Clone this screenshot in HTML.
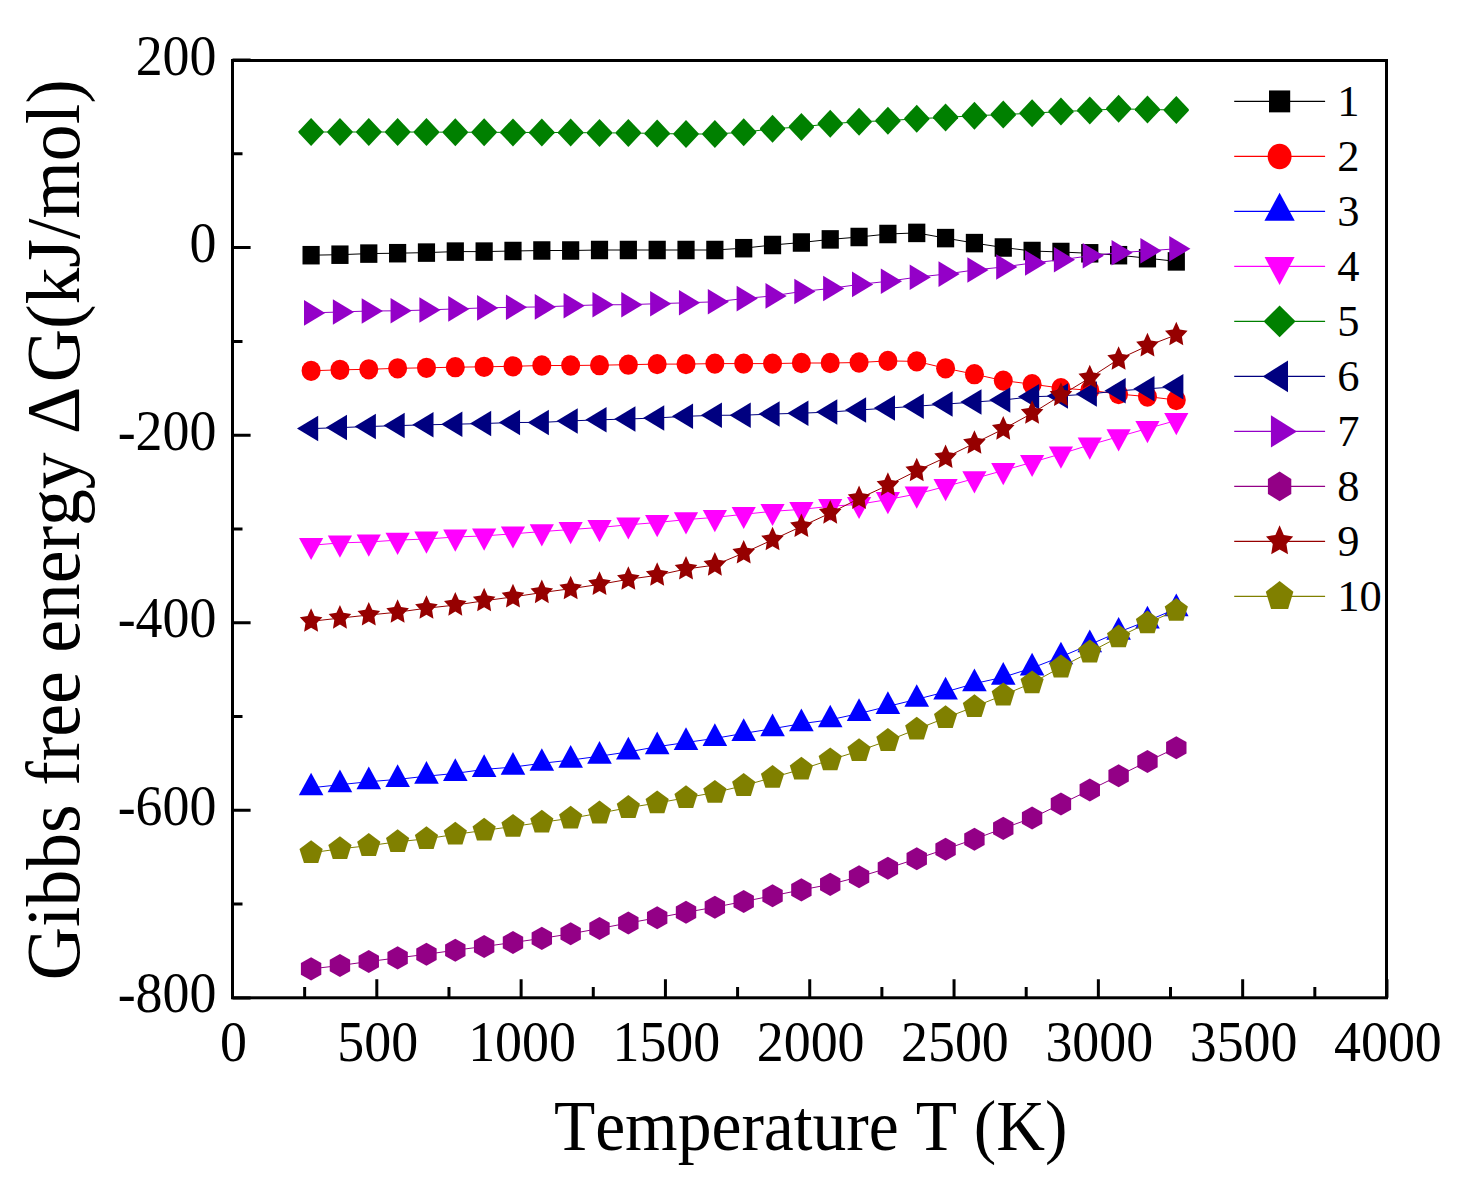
<!DOCTYPE html><html><head><meta charset="utf-8"><style>html,body{margin:0;padding:0;background:#fff;}svg{display:block;}text{font-family:"Liberation Serif",serif;fill:#000;font-kerning:none;}</style></head><body>
<svg width="1463" height="1186" viewBox="0 0 1463 1186">
<rect width="1463" height="1186" fill="#fff"/>
<g fill="#000000">
<polyline fill="none" stroke="#000000" stroke-width="1.0" points="311.1,255.2 339.94,254.7 368.78,253.6 397.62,253.2 426.46,252.6 455.3,251.6 484.14,251.6 512.98,251 541.82,250.5 570.66,250.5 599.5,250 628.34,250 657.18,250 686.02,250 714.86,250 743.7,248.2 772.54,245 801.38,242.5 830.22,239.4 859.06,237 887.9,234 916.74,232.9 945.58,238.1 974.42,243.1 1003.26,247.5 1032.1,251 1060.94,252 1089.78,253.3 1118.62,255.2 1147.46,258.2 1176.3,261.4"/>
<rect x="302.5" y="245.95" width="17.2" height="18.5"/>
<rect x="331.34" y="245.45" width="17.2" height="18.5"/>
<rect x="360.18" y="244.35" width="17.2" height="18.5"/>
<rect x="389.02" y="243.95" width="17.2" height="18.5"/>
<rect x="417.86" y="243.35" width="17.2" height="18.5"/>
<rect x="446.7" y="242.35" width="17.2" height="18.5"/>
<rect x="475.54" y="242.35" width="17.2" height="18.5"/>
<rect x="504.38" y="241.75" width="17.2" height="18.5"/>
<rect x="533.22" y="241.25" width="17.2" height="18.5"/>
<rect x="562.06" y="241.25" width="17.2" height="18.5"/>
<rect x="590.9" y="240.75" width="17.2" height="18.5"/>
<rect x="619.74" y="240.75" width="17.2" height="18.5"/>
<rect x="648.58" y="240.75" width="17.2" height="18.5"/>
<rect x="677.42" y="240.75" width="17.2" height="18.5"/>
<rect x="706.26" y="240.75" width="17.2" height="18.5"/>
<rect x="735.1" y="238.95" width="17.2" height="18.5"/>
<rect x="763.94" y="235.75" width="17.2" height="18.5"/>
<rect x="792.78" y="233.25" width="17.2" height="18.5"/>
<rect x="821.62" y="230.15" width="17.2" height="18.5"/>
<rect x="850.46" y="227.75" width="17.2" height="18.5"/>
<rect x="879.3" y="224.75" width="17.2" height="18.5"/>
<rect x="908.14" y="223.65" width="17.2" height="18.5"/>
<rect x="936.98" y="228.85" width="17.2" height="18.5"/>
<rect x="965.82" y="233.85" width="17.2" height="18.5"/>
<rect x="994.66" y="238.25" width="17.2" height="18.5"/>
<rect x="1023.5" y="241.75" width="17.2" height="18.5"/>
<rect x="1052.34" y="242.75" width="17.2" height="18.5"/>
<rect x="1081.18" y="244.05" width="17.2" height="18.5"/>
<rect x="1110.02" y="245.95" width="17.2" height="18.5"/>
<rect x="1138.86" y="248.95" width="17.2" height="18.5"/>
<rect x="1167.7" y="252.15" width="17.2" height="18.5"/>
</g>
<g fill="#FF0000">
<polyline fill="none" stroke="#FF0000" stroke-width="1.0" points="311.1,370.8 339.94,369.8 368.78,369.3 397.62,368.3 426.46,367.8 455.3,367.2 484.14,366.8 512.98,366.3 541.82,365.5 570.66,365.5 599.5,365.2 628.34,364.7 657.18,364.1 686.02,364.1 714.86,363.6 743.7,363.6 772.54,363.6 801.38,363 830.22,363 859.06,362.5 887.9,360.9 916.74,361.4 945.58,368.3 974.42,374.2 1003.26,380.6 1032.1,384.2 1060.94,388.1 1089.78,390.3 1118.62,394.1 1147.46,396.6 1176.3,400"/>
<ellipse cx="311.1" cy="370.8" rx="9.5" ry="10.15"/>
<ellipse cx="339.94" cy="369.8" rx="9.5" ry="10.15"/>
<ellipse cx="368.78" cy="369.3" rx="9.5" ry="10.15"/>
<ellipse cx="397.62" cy="368.3" rx="9.5" ry="10.15"/>
<ellipse cx="426.46" cy="367.8" rx="9.5" ry="10.15"/>
<ellipse cx="455.3" cy="367.2" rx="9.5" ry="10.15"/>
<ellipse cx="484.14" cy="366.8" rx="9.5" ry="10.15"/>
<ellipse cx="512.98" cy="366.3" rx="9.5" ry="10.15"/>
<ellipse cx="541.82" cy="365.5" rx="9.5" ry="10.15"/>
<ellipse cx="570.66" cy="365.5" rx="9.5" ry="10.15"/>
<ellipse cx="599.5" cy="365.2" rx="9.5" ry="10.15"/>
<ellipse cx="628.34" cy="364.7" rx="9.5" ry="10.15"/>
<ellipse cx="657.18" cy="364.1" rx="9.5" ry="10.15"/>
<ellipse cx="686.02" cy="364.1" rx="9.5" ry="10.15"/>
<ellipse cx="714.86" cy="363.6" rx="9.5" ry="10.15"/>
<ellipse cx="743.7" cy="363.6" rx="9.5" ry="10.15"/>
<ellipse cx="772.54" cy="363.6" rx="9.5" ry="10.15"/>
<ellipse cx="801.38" cy="363" rx="9.5" ry="10.15"/>
<ellipse cx="830.22" cy="363" rx="9.5" ry="10.15"/>
<ellipse cx="859.06" cy="362.5" rx="9.5" ry="10.15"/>
<ellipse cx="887.9" cy="360.9" rx="9.5" ry="10.15"/>
<ellipse cx="916.74" cy="361.4" rx="9.5" ry="10.15"/>
<ellipse cx="945.58" cy="368.3" rx="9.5" ry="10.15"/>
<ellipse cx="974.42" cy="374.2" rx="9.5" ry="10.15"/>
<ellipse cx="1003.26" cy="380.6" rx="9.5" ry="10.15"/>
<ellipse cx="1032.1" cy="384.2" rx="9.5" ry="10.15"/>
<ellipse cx="1060.94" cy="388.1" rx="9.5" ry="10.15"/>
<ellipse cx="1089.78" cy="390.3" rx="9.5" ry="10.15"/>
<ellipse cx="1118.62" cy="394.1" rx="9.5" ry="10.15"/>
<ellipse cx="1147.46" cy="396.6" rx="9.5" ry="10.15"/>
<ellipse cx="1176.3" cy="400" rx="9.5" ry="10.15"/>
</g>
<g fill="#0000FF">
<polyline fill="none" stroke="#0000FF" stroke-width="1.0" points="311.1,787.8 339.94,784.7 368.78,781.7 397.62,779.4 426.46,776.2 455.3,773.4 484.14,769.4 512.98,767.1 541.82,763.3 570.66,760.1 599.5,756.2 628.34,751.9 657.18,746.7 686.02,742.5 714.86,738.4 743.7,733.4 772.54,728.7 801.38,723.7 830.22,719.8 859.06,713.5 887.9,706.4 916.74,699.3 945.58,691.9 974.42,683.6 1003.26,677.2 1032.1,668 1060.94,656.8 1089.78,644.6 1118.62,632.1 1147.46,620.9 1176.3,608.7"/>
<polygon points="311.1,772.67 323.4,795.37 298.8,795.37"/>
<polygon points="339.94,769.57 352.24,792.27 327.64,792.27"/>
<polygon points="368.78,766.57 381.08,789.27 356.48,789.27"/>
<polygon points="397.62,764.27 409.92,786.97 385.32,786.97"/>
<polygon points="426.46,761.07 438.76,783.77 414.16,783.77"/>
<polygon points="455.3,758.27 467.6,780.97 443,780.97"/>
<polygon points="484.14,754.27 496.44,776.97 471.84,776.97"/>
<polygon points="512.98,751.97 525.28,774.67 500.68,774.67"/>
<polygon points="541.82,748.17 554.12,770.87 529.52,770.87"/>
<polygon points="570.66,744.97 582.96,767.67 558.36,767.67"/>
<polygon points="599.5,741.07 611.8,763.77 587.2,763.77"/>
<polygon points="628.34,736.77 640.64,759.47 616.04,759.47"/>
<polygon points="657.18,731.57 669.48,754.27 644.88,754.27"/>
<polygon points="686.02,727.37 698.32,750.07 673.72,750.07"/>
<polygon points="714.86,723.27 727.16,745.97 702.56,745.97"/>
<polygon points="743.7,718.27 756,740.97 731.4,740.97"/>
<polygon points="772.54,713.57 784.84,736.27 760.24,736.27"/>
<polygon points="801.38,708.57 813.68,731.27 789.08,731.27"/>
<polygon points="830.22,704.67 842.52,727.37 817.92,727.37"/>
<polygon points="859.06,698.37 871.36,721.07 846.76,721.07"/>
<polygon points="887.9,691.27 900.2,713.97 875.6,713.97"/>
<polygon points="916.74,684.17 929.04,706.87 904.44,706.87"/>
<polygon points="945.58,676.77 957.88,699.47 933.28,699.47"/>
<polygon points="974.42,668.47 986.72,691.17 962.12,691.17"/>
<polygon points="1003.26,662.07 1015.56,684.77 990.96,684.77"/>
<polygon points="1032.1,652.87 1044.4,675.57 1019.8,675.57"/>
<polygon points="1060.94,641.67 1073.24,664.37 1048.64,664.37"/>
<polygon points="1089.78,629.47 1102.08,652.17 1077.48,652.17"/>
<polygon points="1118.62,616.97 1130.92,639.67 1106.32,639.67"/>
<polygon points="1147.46,605.77 1159.76,628.47 1135.16,628.47"/>
<polygon points="1176.3,593.57 1188.6,616.27 1164,616.27"/>
</g>
<g fill="#FF00FF">
<polyline fill="none" stroke="#FF00FF" stroke-width="1.0" points="311.1,545.3 339.94,542.9 368.78,542 397.62,540.1 426.46,539 455.3,537 484.14,535.9 512.98,533.8 541.82,531.6 570.66,529.5 599.5,527.5 628.34,524.8 657.18,522.5 686.02,519.6 714.86,517.4 743.7,514.3 772.54,511.3 801.38,509.4 830.22,506.3 859.06,504.3 887.9,499.5 916.74,494 945.58,486.5 974.42,478.6 1003.26,470.5 1032.1,462.3 1060.94,453.9 1089.78,444.9 1118.62,436.7 1147.46,428.5 1176.3,420.5"/>
<polygon points="311.1,560.1 323.2,537.9 299,537.9"/>
<polygon points="339.94,557.7 352.04,535.5 327.84,535.5"/>
<polygon points="368.78,556.8 380.88,534.6 356.68,534.6"/>
<polygon points="397.62,554.9 409.72,532.7 385.52,532.7"/>
<polygon points="426.46,553.8 438.56,531.6 414.36,531.6"/>
<polygon points="455.3,551.8 467.4,529.6 443.2,529.6"/>
<polygon points="484.14,550.7 496.24,528.5 472.04,528.5"/>
<polygon points="512.98,548.6 525.08,526.4 500.88,526.4"/>
<polygon points="541.82,546.4 553.92,524.2 529.72,524.2"/>
<polygon points="570.66,544.3 582.76,522.1 558.56,522.1"/>
<polygon points="599.5,542.3 611.6,520.1 587.4,520.1"/>
<polygon points="628.34,539.6 640.44,517.4 616.24,517.4"/>
<polygon points="657.18,537.3 669.28,515.1 645.08,515.1"/>
<polygon points="686.02,534.4 698.12,512.2 673.92,512.2"/>
<polygon points="714.86,532.2 726.96,510 702.76,510"/>
<polygon points="743.7,529.1 755.8,506.9 731.6,506.9"/>
<polygon points="772.54,526.1 784.64,503.9 760.44,503.9"/>
<polygon points="801.38,524.2 813.48,502 789.28,502"/>
<polygon points="830.22,521.1 842.32,498.9 818.12,498.9"/>
<polygon points="859.06,519.1 871.16,496.9 846.96,496.9"/>
<polygon points="887.9,514.3 900,492.1 875.8,492.1"/>
<polygon points="916.74,508.8 928.84,486.6 904.64,486.6"/>
<polygon points="945.58,501.3 957.68,479.1 933.48,479.1"/>
<polygon points="974.42,493.4 986.52,471.2 962.32,471.2"/>
<polygon points="1003.26,485.3 1015.36,463.1 991.16,463.1"/>
<polygon points="1032.1,477.1 1044.2,454.9 1020,454.9"/>
<polygon points="1060.94,468.7 1073.04,446.5 1048.84,446.5"/>
<polygon points="1089.78,459.7 1101.88,437.5 1077.68,437.5"/>
<polygon points="1118.62,451.5 1130.72,429.3 1106.52,429.3"/>
<polygon points="1147.46,443.3 1159.56,421.1 1135.36,421.1"/>
<polygon points="1176.3,435.3 1188.4,413.1 1164.2,413.1"/>
</g>
<g fill="#008000">
<polyline fill="none" stroke="#008000" stroke-width="1.0" points="311.1,132 339.94,132 368.78,132 397.62,132 426.46,132.1 455.3,132.2 484.14,132.3 512.98,132.4 541.82,132.5 570.66,132.5 599.5,132.9 628.34,132.9 657.18,133.5 686.02,134 714.86,134 743.7,132.2 772.54,128.8 801.38,126.9 830.22,123.8 859.06,121.7 887.9,120.7 916.74,118.7 945.58,117.4 974.42,115.7 1003.26,114.6 1032.1,113.2 1060.94,111.5 1089.78,110.4 1118.62,108.8 1147.46,109.5 1176.3,110"/>
<polygon points="311.1,118 323.6,131.2 323.6,132.8 311.1,146 298.6,132.8 298.6,131.2"/>
<polygon points="339.94,118 352.44,131.2 352.44,132.8 339.94,146 327.44,132.8 327.44,131.2"/>
<polygon points="368.78,118 381.28,131.2 381.28,132.8 368.78,146 356.28,132.8 356.28,131.2"/>
<polygon points="397.62,118 410.12,131.2 410.12,132.8 397.62,146 385.12,132.8 385.12,131.2"/>
<polygon points="426.46,118.1 438.96,131.3 438.96,132.9 426.46,146.1 413.96,132.9 413.96,131.3"/>
<polygon points="455.3,118.2 467.8,131.4 467.8,133 455.3,146.2 442.8,133 442.8,131.4"/>
<polygon points="484.14,118.3 496.64,131.5 496.64,133.1 484.14,146.3 471.64,133.1 471.64,131.5"/>
<polygon points="512.98,118.4 525.48,131.6 525.48,133.2 512.98,146.4 500.48,133.2 500.48,131.6"/>
<polygon points="541.82,118.5 554.32,131.7 554.32,133.3 541.82,146.5 529.32,133.3 529.32,131.7"/>
<polygon points="570.66,118.5 583.16,131.7 583.16,133.3 570.66,146.5 558.16,133.3 558.16,131.7"/>
<polygon points="599.5,118.9 612,132.1 612,133.7 599.5,146.9 587,133.7 587,132.1"/>
<polygon points="628.34,118.9 640.84,132.1 640.84,133.7 628.34,146.9 615.84,133.7 615.84,132.1"/>
<polygon points="657.18,119.5 669.68,132.7 669.68,134.3 657.18,147.5 644.68,134.3 644.68,132.7"/>
<polygon points="686.02,120 698.52,133.2 698.52,134.8 686.02,148 673.52,134.8 673.52,133.2"/>
<polygon points="714.86,120 727.36,133.2 727.36,134.8 714.86,148 702.36,134.8 702.36,133.2"/>
<polygon points="743.7,118.2 756.2,131.4 756.2,133 743.7,146.2 731.2,133 731.2,131.4"/>
<polygon points="772.54,114.8 785.04,128 785.04,129.6 772.54,142.8 760.04,129.6 760.04,128"/>
<polygon points="801.38,112.9 813.88,126.1 813.88,127.7 801.38,140.9 788.88,127.7 788.88,126.1"/>
<polygon points="830.22,109.8 842.72,123 842.72,124.6 830.22,137.8 817.72,124.6 817.72,123"/>
<polygon points="859.06,107.7 871.56,120.9 871.56,122.5 859.06,135.7 846.56,122.5 846.56,120.9"/>
<polygon points="887.9,106.7 900.4,119.9 900.4,121.5 887.9,134.7 875.4,121.5 875.4,119.9"/>
<polygon points="916.74,104.7 929.24,117.9 929.24,119.5 916.74,132.7 904.24,119.5 904.24,117.9"/>
<polygon points="945.58,103.4 958.08,116.6 958.08,118.2 945.58,131.4 933.08,118.2 933.08,116.6"/>
<polygon points="974.42,101.7 986.92,114.9 986.92,116.5 974.42,129.7 961.92,116.5 961.92,114.9"/>
<polygon points="1003.26,100.6 1015.76,113.8 1015.76,115.4 1003.26,128.6 990.76,115.4 990.76,113.8"/>
<polygon points="1032.1,99.2 1044.6,112.4 1044.6,114 1032.1,127.2 1019.6,114 1019.6,112.4"/>
<polygon points="1060.94,97.5 1073.44,110.7 1073.44,112.3 1060.94,125.5 1048.44,112.3 1048.44,110.7"/>
<polygon points="1089.78,96.4 1102.28,109.6 1102.28,111.2 1089.78,124.4 1077.28,111.2 1077.28,109.6"/>
<polygon points="1118.62,94.8 1131.12,108 1131.12,109.6 1118.62,122.8 1106.12,109.6 1106.12,108"/>
<polygon points="1147.46,95.5 1159.96,108.7 1159.96,110.3 1147.46,123.5 1134.96,110.3 1134.96,108.7"/>
<polygon points="1176.3,96 1188.8,109.2 1188.8,110.8 1176.3,124 1163.8,110.8 1163.8,109.2"/>
</g>
<g fill="#000080">
<polyline fill="none" stroke="#000080" stroke-width="1.0" points="311.1,428.6 339.94,427.6 368.78,426.5 397.62,425.6 426.46,424.8 455.3,424.2 484.14,423.5 512.98,422.5 541.82,422.4 570.66,420.9 599.5,419.8 628.34,419 657.18,417.9 686.02,416.3 714.86,415.3 743.7,415.2 772.54,414 801.38,413.2 830.22,412 859.06,410 887.9,408.1 916.74,406.2 945.58,404.1 974.42,402 1003.26,400 1032.1,396.7 1060.94,395.9 1089.78,394 1118.62,390.8 1147.46,388.8 1176.3,386.8"/>
<polygon points="296.97,428.6 318.17,415.85 318.17,441.35"/>
<polygon points="325.81,427.6 347.01,414.85 347.01,440.35"/>
<polygon points="354.65,426.5 375.85,413.75 375.85,439.25"/>
<polygon points="383.49,425.6 404.69,412.85 404.69,438.35"/>
<polygon points="412.33,424.8 433.53,412.05 433.53,437.55"/>
<polygon points="441.17,424.2 462.37,411.45 462.37,436.95"/>
<polygon points="470.01,423.5 491.21,410.75 491.21,436.25"/>
<polygon points="498.85,422.5 520.05,409.75 520.05,435.25"/>
<polygon points="527.69,422.4 548.89,409.65 548.89,435.15"/>
<polygon points="556.53,420.9 577.73,408.15 577.73,433.65"/>
<polygon points="585.37,419.8 606.57,407.05 606.57,432.55"/>
<polygon points="614.21,419 635.41,406.25 635.41,431.75"/>
<polygon points="643.05,417.9 664.25,405.15 664.25,430.65"/>
<polygon points="671.89,416.3 693.09,403.55 693.09,429.05"/>
<polygon points="700.73,415.3 721.93,402.55 721.93,428.05"/>
<polygon points="729.57,415.2 750.77,402.45 750.77,427.95"/>
<polygon points="758.41,414 779.61,401.25 779.61,426.75"/>
<polygon points="787.25,413.2 808.45,400.45 808.45,425.95"/>
<polygon points="816.09,412 837.29,399.25 837.29,424.75"/>
<polygon points="844.93,410 866.13,397.25 866.13,422.75"/>
<polygon points="873.77,408.1 894.97,395.35 894.97,420.85"/>
<polygon points="902.61,406.2 923.81,393.45 923.81,418.95"/>
<polygon points="931.45,404.1 952.65,391.35 952.65,416.85"/>
<polygon points="960.29,402 981.49,389.25 981.49,414.75"/>
<polygon points="989.13,400 1010.33,387.25 1010.33,412.75"/>
<polygon points="1017.97,396.7 1039.17,383.95 1039.17,409.45"/>
<polygon points="1046.81,395.9 1068.01,383.15 1068.01,408.65"/>
<polygon points="1075.65,394 1096.85,381.25 1096.85,406.75"/>
<polygon points="1104.49,390.8 1125.69,378.05 1125.69,403.55"/>
<polygon points="1133.33,388.8 1154.53,376.05 1154.53,401.55"/>
<polygon points="1162.17,386.8 1183.37,374.05 1183.37,399.55"/>
</g>
<g fill="#9400C8">
<polyline fill="none" stroke="#9400C8" stroke-width="1.0" points="311.1,312.9 339.94,312 368.78,311 397.62,310.8 426.46,310 455.3,308.9 484.14,307.9 512.98,307.3 541.82,306.9 570.66,305.8 599.5,304.8 628.34,304.7 657.18,303.7 686.02,302.8 714.86,301.8 743.7,298.6 772.54,295.9 801.38,291.5 830.22,288.5 859.06,284.4 887.9,281.3 916.74,277.2 945.58,274.1 974.42,270 1003.26,267 1032.1,263 1060.94,259.8 1089.78,255.8 1118.62,252.7 1147.46,250.8 1176.3,248.8"/>
<polygon points="325.23,312.9 304.03,300.1 304.03,325.7"/>
<polygon points="354.07,312 332.87,299.2 332.87,324.8"/>
<polygon points="382.91,311 361.71,298.2 361.71,323.8"/>
<polygon points="411.75,310.8 390.55,298 390.55,323.6"/>
<polygon points="440.59,310 419.39,297.2 419.39,322.8"/>
<polygon points="469.43,308.9 448.23,296.1 448.23,321.7"/>
<polygon points="498.27,307.9 477.07,295.1 477.07,320.7"/>
<polygon points="527.11,307.3 505.91,294.5 505.91,320.1"/>
<polygon points="555.95,306.9 534.75,294.1 534.75,319.7"/>
<polygon points="584.79,305.8 563.59,293 563.59,318.6"/>
<polygon points="613.63,304.8 592.43,292 592.43,317.6"/>
<polygon points="642.47,304.7 621.27,291.9 621.27,317.5"/>
<polygon points="671.31,303.7 650.11,290.9 650.11,316.5"/>
<polygon points="700.15,302.8 678.95,290 678.95,315.6"/>
<polygon points="728.99,301.8 707.79,289 707.79,314.6"/>
<polygon points="757.83,298.6 736.63,285.8 736.63,311.4"/>
<polygon points="786.67,295.9 765.47,283.1 765.47,308.7"/>
<polygon points="815.51,291.5 794.31,278.7 794.31,304.3"/>
<polygon points="844.35,288.5 823.15,275.7 823.15,301.3"/>
<polygon points="873.19,284.4 851.99,271.6 851.99,297.2"/>
<polygon points="902.03,281.3 880.83,268.5 880.83,294.1"/>
<polygon points="930.87,277.2 909.67,264.4 909.67,290"/>
<polygon points="959.71,274.1 938.51,261.3 938.51,286.9"/>
<polygon points="988.55,270 967.35,257.2 967.35,282.8"/>
<polygon points="1017.39,267 996.19,254.2 996.19,279.8"/>
<polygon points="1046.23,263 1025.03,250.2 1025.03,275.8"/>
<polygon points="1075.07,259.8 1053.87,247 1053.87,272.6"/>
<polygon points="1103.91,255.8 1082.71,243 1082.71,268.6"/>
<polygon points="1132.75,252.7 1111.55,239.9 1111.55,265.5"/>
<polygon points="1161.59,250.8 1140.39,238 1140.39,263.6"/>
<polygon points="1190.43,248.8 1169.23,236 1169.23,261.6"/>
</g>
<g fill="#930086">
<polyline fill="none" stroke="#930086" stroke-width="1.0" points="311.1,968.9 339.94,965.5 368.78,961.5 397.62,957.9 426.46,954.3 455.3,950.2 484.14,946.5 512.98,942.5 541.82,938.4 570.66,933.8 599.5,928.5 628.34,923 657.18,917.8 686.02,912.3 714.86,907.2 743.7,901.5 772.54,895.8 801.38,889.9 830.22,884.4 859.06,876.8 887.9,868.2 916.74,858.8 945.58,849.2 974.42,839.2 1003.26,828.4 1032.1,818 1060.94,804 1089.78,790 1118.62,775.8 1147.46,761.5 1176.3,747.8"/>
<polygon points="311.1,957.35 321.3,963.12 321.3,974.67 311.1,980.45 300.9,974.67 300.9,963.12"/>
<polygon points="339.94,953.95 350.14,959.73 350.14,971.27 339.94,977.05 329.74,971.27 329.74,959.73"/>
<polygon points="368.78,949.95 378.98,955.73 378.98,967.27 368.78,973.05 358.58,967.27 358.58,955.73"/>
<polygon points="397.62,946.35 407.82,952.12 407.82,963.67 397.62,969.45 387.42,963.67 387.42,952.12"/>
<polygon points="426.46,942.75 436.66,948.52 436.66,960.07 426.46,965.85 416.26,960.07 416.26,948.52"/>
<polygon points="455.3,938.65 465.5,944.43 465.5,955.98 455.3,961.75 445.1,955.98 445.1,944.43"/>
<polygon points="484.14,934.95 494.34,940.73 494.34,952.27 484.14,958.05 473.94,952.27 473.94,940.73"/>
<polygon points="512.98,930.95 523.18,936.73 523.18,948.27 512.98,954.05 502.78,948.27 502.78,936.73"/>
<polygon points="541.82,926.85 552.02,932.62 552.02,944.17 541.82,949.95 531.62,944.17 531.62,932.62"/>
<polygon points="570.66,922.25 580.86,928.02 580.86,939.57 570.66,945.35 560.46,939.57 560.46,928.02"/>
<polygon points="599.5,916.95 609.7,922.73 609.7,934.27 599.5,940.05 589.3,934.27 589.3,922.73"/>
<polygon points="628.34,911.45 638.54,917.23 638.54,928.77 628.34,934.55 618.14,928.77 618.14,917.23"/>
<polygon points="657.18,906.25 667.38,912.02 667.38,923.57 657.18,929.35 646.98,923.57 646.98,912.02"/>
<polygon points="686.02,900.75 696.22,906.52 696.22,918.07 686.02,923.85 675.82,918.07 675.82,906.52"/>
<polygon points="714.86,895.65 725.06,901.43 725.06,912.98 714.86,918.75 704.66,912.98 704.66,901.43"/>
<polygon points="743.7,889.95 753.9,895.73 753.9,907.27 743.7,913.05 733.5,907.27 733.5,895.73"/>
<polygon points="772.54,884.25 782.74,890.02 782.74,901.57 772.54,907.35 762.34,901.57 762.34,890.02"/>
<polygon points="801.38,878.35 811.58,884.12 811.58,895.67 801.38,901.45 791.18,895.67 791.18,884.12"/>
<polygon points="830.22,872.85 840.42,878.62 840.42,890.17 830.22,895.95 820.02,890.17 820.02,878.62"/>
<polygon points="859.06,865.25 869.26,871.02 869.26,882.57 859.06,888.35 848.86,882.57 848.86,871.02"/>
<polygon points="887.9,856.65 898.1,862.43 898.1,873.98 887.9,879.75 877.7,873.98 877.7,862.43"/>
<polygon points="916.74,847.25 926.94,853.02 926.94,864.57 916.74,870.35 906.54,864.57 906.54,853.02"/>
<polygon points="945.58,837.65 955.78,843.43 955.78,854.98 945.58,860.75 935.38,854.98 935.38,843.43"/>
<polygon points="974.42,827.65 984.62,833.43 984.62,844.98 974.42,850.75 964.22,844.98 964.22,833.43"/>
<polygon points="1003.26,816.85 1013.46,822.62 1013.46,834.17 1003.26,839.95 993.06,834.17 993.06,822.62"/>
<polygon points="1032.1,806.45 1042.3,812.23 1042.3,823.77 1032.1,829.55 1021.9,823.77 1021.9,812.23"/>
<polygon points="1060.94,792.45 1071.14,798.23 1071.14,809.77 1060.94,815.55 1050.74,809.77 1050.74,798.23"/>
<polygon points="1089.78,778.45 1099.98,784.23 1099.98,795.77 1089.78,801.55 1079.58,795.77 1079.58,784.23"/>
<polygon points="1118.62,764.25 1128.82,770.02 1128.82,781.57 1118.62,787.35 1108.42,781.57 1108.42,770.02"/>
<polygon points="1147.46,749.95 1157.66,755.73 1157.66,767.27 1147.46,773.05 1137.26,767.27 1137.26,755.73"/>
<polygon points="1176.3,736.25 1186.5,742.02 1186.5,753.57 1176.3,759.35 1166.1,753.57 1166.1,742.02"/>
</g>
<g fill="#960000">
<polyline fill="none" stroke="#960000" stroke-width="1.0" points="311.1,621.3 339.94,618.1 368.78,615 397.62,612.2 426.46,608.2 455.3,605.1 484.14,600.8 512.98,596.9 541.82,592.6 570.66,588.7 599.5,584.4 628.34,579.3 657.18,575.3 686.02,569 714.86,565.1 743.7,553 772.54,539.8 801.38,526.5 830.22,513.1 859.06,498.5 887.9,485.3 916.74,470.8 945.58,457.5 974.42,443.3 1003.26,429.1 1032.1,413.3 1060.94,395.4 1089.78,377.9 1118.62,359.2 1147.46,345.9 1176.3,334.8"/>
<polygon points="311.1,608.25 314.59,616.02 322.4,617.27 316.75,623.32 318.08,631.85 311.1,627.82 304.12,631.85 305.45,623.32 299.8,617.27 307.61,616.02"/>
<polygon points="339.94,605.05 343.43,612.82 351.24,614.07 345.59,620.12 346.92,628.65 339.94,624.62 332.96,628.65 334.29,620.12 328.64,614.07 336.45,612.82"/>
<polygon points="368.78,601.95 372.27,609.72 380.08,610.97 374.43,617.02 375.76,625.55 368.78,621.52 361.8,625.55 363.13,617.02 357.48,610.97 365.29,609.72"/>
<polygon points="397.62,599.15 401.11,606.92 408.92,608.17 403.27,614.22 404.6,622.75 397.62,618.72 390.64,622.75 391.97,614.22 386.32,608.17 394.13,606.92"/>
<polygon points="426.46,595.15 429.95,602.92 437.76,604.17 432.11,610.22 433.44,618.75 426.46,614.72 419.48,618.75 420.81,610.22 415.16,604.17 422.97,602.92"/>
<polygon points="455.3,592.05 458.79,599.82 466.6,601.07 460.95,607.12 462.28,615.65 455.3,611.62 448.32,615.65 449.65,607.12 444,601.07 451.81,599.82"/>
<polygon points="484.14,587.75 487.63,595.52 495.44,596.77 489.79,602.82 491.12,611.35 484.14,607.32 477.16,611.35 478.49,602.82 472.84,596.77 480.65,595.52"/>
<polygon points="512.98,583.85 516.47,591.62 524.28,592.87 518.63,598.92 519.96,607.45 512.98,603.42 506,607.45 507.33,598.92 501.68,592.87 509.49,591.62"/>
<polygon points="541.82,579.55 545.31,587.32 553.12,588.57 547.47,594.62 548.8,603.15 541.82,599.12 534.84,603.15 536.17,594.62 530.52,588.57 538.33,587.32"/>
<polygon points="570.66,575.65 574.15,583.42 581.96,584.67 576.31,590.72 577.64,599.25 570.66,595.22 563.68,599.25 565.01,590.72 559.36,584.67 567.17,583.42"/>
<polygon points="599.5,571.35 602.99,579.12 610.8,580.37 605.15,586.42 606.48,594.95 599.5,590.92 592.52,594.95 593.85,586.42 588.2,580.37 596.01,579.12"/>
<polygon points="628.34,566.25 631.83,574.02 639.64,575.27 633.99,581.32 635.32,589.85 628.34,585.82 621.36,589.85 622.69,581.32 617.04,575.27 624.85,574.02"/>
<polygon points="657.18,562.25 660.67,570.02 668.48,571.27 662.83,577.32 664.16,585.85 657.18,581.82 650.2,585.85 651.53,577.32 645.88,571.27 653.69,570.02"/>
<polygon points="686.02,555.95 689.51,563.72 697.32,564.97 691.67,571.02 693,579.55 686.02,575.52 679.04,579.55 680.37,571.02 674.72,564.97 682.53,563.72"/>
<polygon points="714.86,552.05 718.35,559.82 726.16,561.07 720.51,567.12 721.84,575.65 714.86,571.62 707.88,575.65 709.21,567.12 703.56,561.07 711.37,559.82"/>
<polygon points="743.7,539.95 747.19,547.72 755,548.97 749.35,555.02 750.68,563.55 743.7,559.52 736.72,563.55 738.05,555.02 732.4,548.97 740.21,547.72"/>
<polygon points="772.54,526.75 776.03,534.52 783.84,535.77 778.19,541.82 779.52,550.35 772.54,546.32 765.56,550.35 766.89,541.82 761.24,535.77 769.05,534.52"/>
<polygon points="801.38,513.45 804.87,521.22 812.68,522.47 807.03,528.52 808.36,537.05 801.38,533.02 794.4,537.05 795.73,528.52 790.08,522.47 797.89,521.22"/>
<polygon points="830.22,500.05 833.71,507.82 841.52,509.07 835.87,515.12 837.2,523.65 830.22,519.62 823.24,523.65 824.57,515.12 818.92,509.07 826.73,507.82"/>
<polygon points="859.06,485.45 862.55,493.22 870.36,494.47 864.71,500.52 866.04,509.05 859.06,505.02 852.08,509.05 853.41,500.52 847.76,494.47 855.57,493.22"/>
<polygon points="887.9,472.25 891.39,480.02 899.2,481.27 893.55,487.32 894.88,495.85 887.9,491.82 880.92,495.85 882.25,487.32 876.6,481.27 884.41,480.02"/>
<polygon points="916.74,457.75 920.23,465.52 928.04,466.77 922.39,472.82 923.72,481.35 916.74,477.32 909.76,481.35 911.09,472.82 905.44,466.77 913.25,465.52"/>
<polygon points="945.58,444.45 949.07,452.22 956.88,453.47 951.23,459.52 952.56,468.05 945.58,464.02 938.6,468.05 939.93,459.52 934.28,453.47 942.09,452.22"/>
<polygon points="974.42,430.25 977.91,438.02 985.72,439.27 980.07,445.32 981.4,453.85 974.42,449.82 967.44,453.85 968.77,445.32 963.12,439.27 970.93,438.02"/>
<polygon points="1003.26,416.05 1006.75,423.82 1014.56,425.07 1008.91,431.12 1010.24,439.65 1003.26,435.62 996.28,439.65 997.61,431.12 991.96,425.07 999.77,423.82"/>
<polygon points="1032.1,400.25 1035.59,408.02 1043.4,409.27 1037.75,415.32 1039.08,423.85 1032.1,419.82 1025.12,423.85 1026.45,415.32 1020.8,409.27 1028.61,408.02"/>
<polygon points="1060.94,382.35 1064.43,390.12 1072.24,391.37 1066.59,397.42 1067.92,405.95 1060.94,401.92 1053.96,405.95 1055.29,397.42 1049.64,391.37 1057.45,390.12"/>
<polygon points="1089.78,364.85 1093.27,372.62 1101.08,373.87 1095.43,379.92 1096.76,388.45 1089.78,384.42 1082.8,388.45 1084.13,379.92 1078.48,373.87 1086.29,372.62"/>
<polygon points="1118.62,346.15 1122.11,353.92 1129.92,355.17 1124.27,361.22 1125.6,369.75 1118.62,365.72 1111.64,369.75 1112.97,361.22 1107.32,355.17 1115.13,353.92"/>
<polygon points="1147.46,332.85 1150.95,340.62 1158.76,341.87 1153.11,347.92 1154.44,356.45 1147.46,352.42 1140.48,356.45 1141.81,347.92 1136.16,341.87 1143.97,340.62"/>
<polygon points="1176.3,321.75 1179.79,329.52 1187.6,330.77 1181.95,336.82 1183.28,345.35 1176.3,341.32 1169.32,345.35 1170.65,336.82 1165,330.77 1172.81,329.52"/>
</g>
<g fill="#808000">
<polyline fill="none" stroke="#808000" stroke-width="1.0" points="311.1,852.8 339.94,848.8 368.78,845.7 397.62,841.8 426.46,838.8 455.3,834.4 484.14,830.4 512.98,826.5 541.82,822.3 570.66,818.3 599.5,813.2 628.34,807.7 657.18,803 686.02,797.8 714.86,792.5 743.7,785.7 772.54,777.6 801.38,769.3 830.22,760 859.06,750.9 887.9,740.7 916.74,729.3 945.58,717.9 974.42,706.8 1003.26,695.2 1032.1,683 1060.94,667.2 1089.78,652.2 1118.62,637.1 1147.46,623 1176.3,610.5"/>
<polygon points="311.1,840.2 322.7,848.91 318.27,863 303.93,863 299.5,848.91"/>
<polygon points="339.94,836.2 351.54,844.91 347.11,859 332.77,859 328.34,844.91"/>
<polygon points="368.78,833.1 380.38,841.81 375.95,855.9 361.61,855.9 357.18,841.81"/>
<polygon points="397.62,829.2 409.22,837.91 404.79,852 390.45,852 386.02,837.91"/>
<polygon points="426.46,826.2 438.06,834.91 433.63,849 419.29,849 414.86,834.91"/>
<polygon points="455.3,821.8 466.9,830.51 462.47,844.6 448.13,844.6 443.7,830.51"/>
<polygon points="484.14,817.8 495.74,826.51 491.31,840.6 476.97,840.6 472.54,826.51"/>
<polygon points="512.98,813.9 524.58,822.61 520.15,836.7 505.81,836.7 501.38,822.61"/>
<polygon points="541.82,809.7 553.42,818.41 548.99,832.5 534.65,832.5 530.22,818.41"/>
<polygon points="570.66,805.7 582.26,814.41 577.83,828.5 563.49,828.5 559.06,814.41"/>
<polygon points="599.5,800.6 611.1,809.31 606.67,823.4 592.33,823.4 587.9,809.31"/>
<polygon points="628.34,795.1 639.94,803.81 635.51,817.9 621.17,817.9 616.74,803.81"/>
<polygon points="657.18,790.4 668.78,799.11 664.35,813.2 650.01,813.2 645.58,799.11"/>
<polygon points="686.02,785.2 697.62,793.91 693.19,808 678.85,808 674.42,793.91"/>
<polygon points="714.86,779.9 726.46,788.61 722.03,802.7 707.69,802.7 703.26,788.61"/>
<polygon points="743.7,773.1 755.3,781.81 750.87,795.9 736.53,795.9 732.1,781.81"/>
<polygon points="772.54,765 784.14,773.71 779.71,787.8 765.37,787.8 760.94,773.71"/>
<polygon points="801.38,756.7 812.98,765.41 808.55,779.5 794.21,779.5 789.78,765.41"/>
<polygon points="830.22,747.4 841.82,756.11 837.39,770.2 823.05,770.2 818.62,756.11"/>
<polygon points="859.06,738.3 870.66,747.01 866.23,761.1 851.89,761.1 847.46,747.01"/>
<polygon points="887.9,728.1 899.5,736.81 895.07,750.9 880.73,750.9 876.3,736.81"/>
<polygon points="916.74,716.7 928.34,725.41 923.91,739.5 909.57,739.5 905.14,725.41"/>
<polygon points="945.58,705.3 957.18,714.01 952.75,728.1 938.41,728.1 933.98,714.01"/>
<polygon points="974.42,694.2 986.02,702.91 981.59,717 967.25,717 962.82,702.91"/>
<polygon points="1003.26,682.6 1014.86,691.31 1010.43,705.4 996.09,705.4 991.66,691.31"/>
<polygon points="1032.1,670.4 1043.7,679.11 1039.27,693.2 1024.93,693.2 1020.5,679.11"/>
<polygon points="1060.94,654.6 1072.54,663.31 1068.11,677.4 1053.77,677.4 1049.34,663.31"/>
<polygon points="1089.78,639.6 1101.38,648.31 1096.95,662.4 1082.61,662.4 1078.18,648.31"/>
<polygon points="1118.62,624.5 1130.22,633.21 1125.79,647.3 1111.45,647.3 1107.02,633.21"/>
<polygon points="1147.46,610.4 1159.06,619.11 1154.63,633.2 1140.29,633.2 1135.86,619.11"/>
<polygon points="1176.3,597.9 1187.9,606.61 1183.47,620.7 1169.13,620.7 1164.7,606.61"/>
</g>
<g fill="#000000"><line x1="1234.2" y1="101.4" x2="1325.1" y2="101.4" stroke="#000000" stroke-width="1.1"/>
<rect x="1269" y="90.45" width="21.2" height="21.9"/></g>
<text x="1337.3" y="115.9" font-size="44.5">1</text>
<g fill="#FF0000"><line x1="1234.2" y1="156.4" x2="1325.1" y2="156.4" stroke="#FF0000" stroke-width="1.1"/>
<ellipse cx="1279.6" cy="156.4" rx="11.95" ry="12.75"/></g>
<text x="1337.3" y="170.9" font-size="44.5">2</text>
<g fill="#0000FF"><line x1="1234.2" y1="211.4" x2="1325.1" y2="211.4" stroke="#0000FF" stroke-width="1.1"/>
<polygon points="1279.6,192.87 1294.75,220.67 1264.45,220.67"/></g>
<text x="1337.3" y="225.9" font-size="44.5">3</text>
<g fill="#FF00FF"><line x1="1234.2" y1="266.4" x2="1325.1" y2="266.4" stroke="#FF00FF" stroke-width="1.1"/>
<polygon points="1279.6,285.07 1294.6,257.07 1264.6,257.07"/></g>
<text x="1337.3" y="280.9" font-size="44.5">4</text>
<g fill="#008000"><line x1="1234.2" y1="321.4" x2="1325.1" y2="321.4" stroke="#008000" stroke-width="1.1"/>
<polygon points="1279.6,305.45 1294.75,320.6 1294.75,322.2 1279.6,337.35 1264.45,322.2 1264.45,320.6"/></g>
<text x="1337.3" y="335.9" font-size="44.5">5</text>
<g fill="#000080"><line x1="1234.2" y1="376.4" x2="1325.1" y2="376.4" stroke="#000080" stroke-width="1.1"/>
<polygon points="1262.73,376.4 1288.03,360.45 1288.03,392.35"/></g>
<text x="1337.3" y="390.9" font-size="44.5">6</text>
<g fill="#9400C8"><line x1="1234.2" y1="431.4" x2="1325.1" y2="431.4" stroke="#9400C8" stroke-width="1.1"/>
<polygon points="1296.93,431.4 1270.93,415.2 1270.93,447.6"/></g>
<text x="1337.3" y="445.9" font-size="44.5">7</text>
<g fill="#930086"><line x1="1234.2" y1="486.4" x2="1325.1" y2="486.4" stroke="#930086" stroke-width="1.1"/>
<polygon points="1279.6,471.45 1291.3,478.92 1291.3,493.88 1279.6,501.35 1267.9,493.88 1267.9,478.92"/></g>
<text x="1337.3" y="500.9" font-size="44.5">8</text>
<g fill="#960000"><line x1="1234.2" y1="541.4" x2="1325.1" y2="541.4" stroke="#960000" stroke-width="1.1"/>
<polygon points="1279.6,525.37 1283.8,534.92 1293.2,536.45 1286.4,543.88 1288.01,554.37 1279.6,549.42 1271.19,554.37 1272.8,543.88 1266,536.45 1275.4,534.92"/></g>
<text x="1337.3" y="555.9" font-size="44.5">9</text>
<g fill="#808000"><line x1="1234.2" y1="596.4" x2="1325.1" y2="596.4" stroke="#808000" stroke-width="1.1"/>
<polygon points="1279.6,580.98 1293.4,591.63 1288.13,608.88 1271.07,608.88 1265.8,591.63"/></g>
<text x="1337.3" y="610.9" font-size="44.5">10</text>
<rect x="232.5" y="60.5" width="1154" height="937.3" fill="none" stroke="#000" stroke-width="3"/>
<path d="M232.5 997.8V979.3 M376.81 997.8V979.3 M521.12 997.8V979.3 M665.43 997.8V979.3 M809.74 997.8V979.3 M954.05 997.8V979.3 M1098.36 997.8V979.3 M1242.67 997.8V979.3 M1386.98 997.8V979.3 M304.65 997.8V987.1 M448.97 997.8V987.1 M593.27 997.8V987.1 M737.59 997.8V987.1 M881.89 997.8V987.1 M1026.2 997.8V987.1 M1170.51 997.8V987.1 M1314.83 997.8V987.1 M232.5 60.03H250.6 M232.5 247.6H250.6 M232.5 435.17H250.6 M232.5 622.74H250.6 M232.5 810.31H250.6 M232.5 997.88H250.6 M232.5 153.81H242.5 M232.5 341.38H242.5 M232.5 528.95H242.5 M232.5 716.52H242.5 M232.5 904.1H242.5" stroke="#000" stroke-width="3" fill="none"/>
<text transform="translate(216.4,74.53) scale(0.945,1)" font-size="57.0" text-anchor="end">200</text>
<text transform="translate(216.4,262.1) scale(0.945,1)" font-size="57.0" text-anchor="end">0</text>
<text transform="translate(216.4,449.67) scale(0.945,1)" font-size="57.0" text-anchor="end">-200</text>
<text transform="translate(216.4,637.24) scale(0.945,1)" font-size="57.0" text-anchor="end">-400</text>
<text transform="translate(216.4,824.81) scale(0.945,1)" font-size="57.0" text-anchor="end">-600</text>
<text transform="translate(216.4,1012.38) scale(0.945,1)" font-size="57.0" text-anchor="end">-800</text>
<text transform="translate(233.4,1060.6) scale(0.945,1)" font-size="57.0" text-anchor="middle">0</text>
<text transform="translate(377.71,1060.6) scale(0.945,1)" font-size="57.0" text-anchor="middle">500</text>
<text transform="translate(522.02,1060.6) scale(0.945,1)" font-size="57.0" text-anchor="middle">1000</text>
<text transform="translate(666.33,1060.6) scale(0.945,1)" font-size="57.0" text-anchor="middle">1500</text>
<text transform="translate(810.64,1060.6) scale(0.945,1)" font-size="57.0" text-anchor="middle">2000</text>
<text transform="translate(954.95,1060.6) scale(0.945,1)" font-size="57.0" text-anchor="middle">2500</text>
<text transform="translate(1099.26,1060.6) scale(0.945,1)" font-size="57.0" text-anchor="middle">3000</text>
<text transform="translate(1243.57,1060.6) scale(0.945,1)" font-size="57.0" text-anchor="middle">3500</text>
<text transform="translate(1387.88,1060.6) scale(0.945,1)" font-size="57.0" text-anchor="middle">4000</text>
<text transform="translate(553.9,1150.2) scale(0.938,1)" font-size="72">Temperature T (K)</text>
<text transform="translate(79.2,980.3) rotate(-90) scale(1,1.02)" font-size="73.7">Gibbs free energy Δ<tspan dx="4.3">G(kJ/mol)</tspan></text>
</svg></body></html>
